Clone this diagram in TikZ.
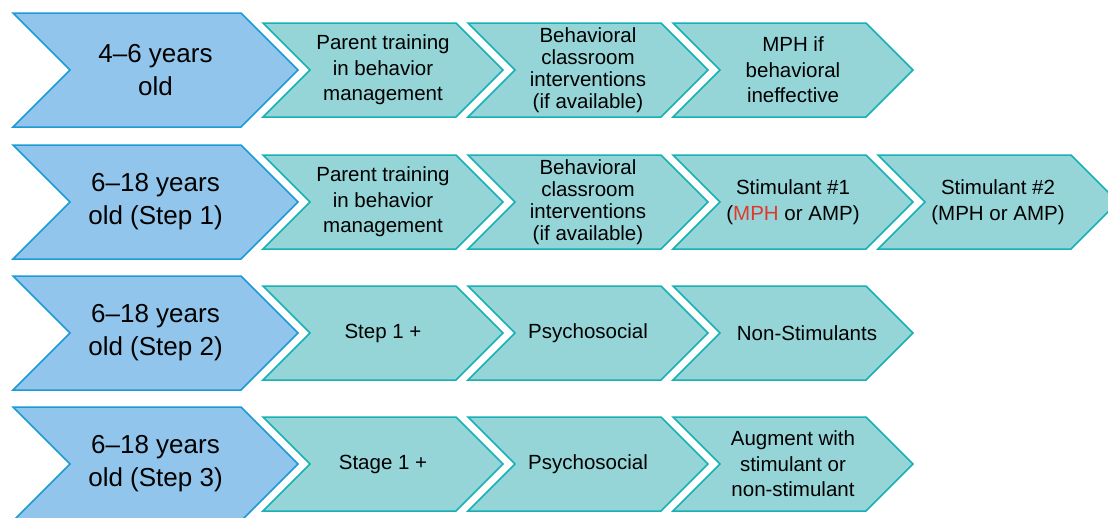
\documentclass[tikz,border=0pt]{standalone}
\usepackage{fontspec}
\setmainfont{Liberation Sans}
\definecolor{bigfill}{HTML}{92C5EB}
\definecolor{bigdraw}{HTML}{1B9AD6}
\definecolor{smallfill}{HTML}{95D5D8}
\definecolor{smalldraw}{HTML}{17B0B4}
\definecolor{mphred}{HTML}{E0392B}
% #1 path style, #2 name, #3 left x, #4 center y, #5 width to tip, #6 half height, #7 depth, #8 text style, #9 text
\newcommand{\chevshape}[9]{%
  \draw[#1] (#3,#4-#6) -- (#3+#5-#7,#4-#6) -- (#3+#5,#4) -- (#3+#5-#7,#4+#6) -- (#3,#4+#6) -- (#3+#7,#4) -- cycle;
  \node[#8] (#2) at ({#3+#5/2}, #4) {#9};
}
\newcommand{\bigchev}[3]{\chevshape{bigbox}{#1}{13}{#2}{285}{57}{57}{bigbox text}{#3}}
\newcommand{\smallchev}[4]{\chevshape{smallbox}{#1}{#2}{#3}{240}{47}{47}{smallbox text}{#4}}
\newcommand{\smallchevtight}[4]{\chevshape{smallbox}{#1}{#2}{#3}{240}{47}{47}{smallbox text, tight}{#4}}
\tikzset{
  bigbox/.style={fill=bigfill, draw=bigdraw, line width=1.5pt, line join=miter},
  smallbox/.style={fill=smallfill, draw=smalldraw, line width=1.5pt, line join=miter},
  bigbox text/.style={align=center, font=\fontsize{26}{33}\selectfont, inner sep=0pt},
  smallbox text/.style={align=center, font=\fontsize{20.5}{25.5}\selectfont, inner sep=0pt},
  tight/.style={font=\fontsize{20.5}{22}\selectfont}
}
\begin{document}
\begin{tikzpicture}[x=1pt,y=-1pt]
\useasboundingbox (0,0) rectangle (1108,517);
% Row 1
\bigchev{r1}{70}{4--6 years\\old}
\smallchev{r1a}{263}{70}{Parent training\\in behavior\\management}
\smallchevtight{r1b}{468}{70}{Behavioral\\classroom\\interventions\\(if available)}
\smallchev{r1c}{673}{70}{MPH if\\behavioral\\ineffective}
% Row 2
\bigchev{r2}{202}{6--18 years\\old (Step 1)}
\smallchev{r2a}{263}{202}{Parent training\\in behavior\\management}
\smallchevtight{r2b}{468}{202}{Behavioral\\classroom\\interventions\\(if available)}
\smallchev{r2c}{673}{202}{Stimulant \#1\\(\textcolor{mphred}{MPH} or AMP)}
\smallchev{r2d}{878}{202}{Stimulant \#2\\(MPH or AMP)}
% Row 3
\bigchev{r3}{333}{6--18 years\\old (Step 2)}
\smallchev{r3a}{263}{333}{Step 1 +}
\smallchev{r3b}{468}{333}{Psychosocial}
\chevshape{smallbox}{r3c}{673}{333}{240}{47}{47}{smallbox text, xshift=14pt}{Non-Stimulants}
% Row 4
\bigchev{r4}{464}{6--18 years\\old (Step 3)}
\smallchev{r4a}{263}{464}{Stage 1 +}
\smallchev{r4b}{468}{464}{Psychosocial}
\smallchev{r4c}{673}{464}{Augment with\\stimulant or\\non-stimulant}
\end{tikzpicture}
\end{document}
